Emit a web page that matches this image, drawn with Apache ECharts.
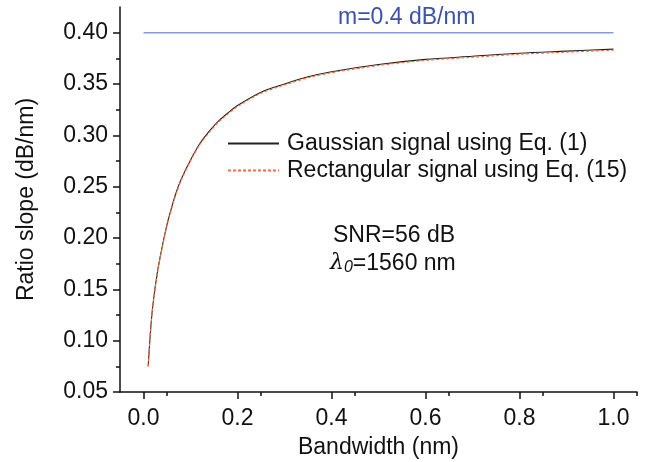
<!DOCTYPE html>
<html>
<head>
<meta charset="utf-8">
<script src="https://cdn.jsdelivr.net/npm/echarts@6/dist/echarts.min.js"></script>
<style>html,body{margin:0;padding:0;background:#fff;}#c{width:647px;height:462px;}</style>
</head>
<body>
<div id="c"></div>
<script>
var bandwidth = [0.01, 0.015, 0.02, 0.03, 0.04, 0.05, 0.06, 0.07, 0.08, 0.1, 0.12, 0.14, 0.16, 0.18, 0.2, 0.25, 0.3, 0.35, 0.4, 0.5, 0.6, 0.7, 0.8, 0.9, 1.0];
var gaussianSlope = [0.075, 0.110, 0.135, 0.168, 0.192, 0.213, 0.230, 0.245, 0.257, 0.276, 0.292, 0.304, 0.314, 0.322, 0.329, 0.342, 0.350, 0.357, 0.362, 0.369, 0.374, 0.377, 0.380, 0.382, 0.384];
var rectSlope = [0.075, 0.109, 0.134, 0.167, 0.191, 0.212, 0.229, 0.244, 0.256, 0.275, 0.291, 0.303, 0.313, 0.321, 0.328, 0.341, 0.349, 0.356, 0.361, 0.368, 0.373, 0.376, 0.379, 0.381, 0.383];
var refX = [0, 1.0];
var refY = [0.4, 0.4];
var seriesNames = ['Gaussian signal using Eq. (1)', 'Rectangular signal using Eq. (15)'];

function pairs(xs, ys) { return xs.map(function (x, i) { return [x, ys[i]]; }); }

var FONT = 'Liberation Sans, Arial, sans-serif';
var FS = 23;
var chart = echarts.init(document.getElementById('c'));
chart.setOption({
  animation: false,
  backgroundColor: '#fff',
  grid: { left: 120, right: 10, top: 7, bottom: 70, containLabel: false, outerBoundsMode: 'none' },
  xAxis: {
    type: 'value', min: -0.05, max: 1.05, interval: 0.2,
    name: 'Bandwidth (nm)', nameLocation: 'middle', nameGap: 44,
    nameTextStyle: { fontFamily: FONT, fontSize: FS, color: '#111' },
    axisLine: { onZero: false, lineStyle: { color: '#111', width: 1.5 } },
    axisTick: { show: true, length: 7, inside: false, lineStyle: { color: '#111', width: 1.5 }, customValues: [0, 0.2, 0.4, 0.6, 0.8, 1.0] },
    minorTick: { show: true, splitNumber: 2, length: 4, lineStyle: { color: '#111', width: 1.5 } },
    axisLabel: { fontFamily: FONT, fontSize: FS, color: '#111', margin: 15, customValues: [0, 0.2, 0.4, 0.6, 0.8, 1.0], formatter: function (v) { return v.toFixed(1); } },
    splitLine: { show: false }
  },
  yAxis: {
    type: 'value', min: 0.05, max: 0.425, interval: 0.05,
    name: 'Ratio slope (dB/nm)', nameLocation: 'middle', nameGap: 82,
    nameTextStyle: { fontFamily: FONT, fontSize: FS, color: '#111' },
    axisLine: { show: true, onZero: false, lineStyle: { color: '#111', width: 1.5 } },
    axisTick: { show: true, length: 7, lineStyle: { color: '#111', width: 1.5 }, customValues: [0.05, 0.1, 0.15, 0.2, 0.25, 0.3, 0.35, 0.4] },
    minorTick: { show: true, splitNumber: 2, length: 4, lineStyle: { color: '#111', width: 1.5 } },
    axisLabel: { fontFamily: FONT, fontSize: FS, color: '#111', margin: 12, customValues: [0.05, 0.1, 0.15, 0.2, 0.25, 0.3, 0.35, 0.4], formatter: function (v) { return v.toFixed(2); } },
    splitLine: { show: false }
  },
  legend: {
    left: 227, top: 132, orient: 'vertical', padding: 0,
    itemWidth: 51, itemHeight: 14, itemGap: 4,
    data: seriesNames,
    itemStyle: { opacity: 0 },
    textStyle: { fontFamily: FONT, fontSize: FS, color: '#111', padding: [0, 0, 0, 3] }
  },
  series: [
    {
      name: 'm=0.4', type: 'line', data: pairs(refX, refY), symbol: 'none', silent: true,
      lineStyle: { color: '#8798dd', width: 1.5 }
    },
    {
      name: seriesNames[0], type: 'line', data: pairs(bandwidth, gaussianSlope), symbol: 'none', smooth: 0.3,
      itemStyle: { color: '#222' },
      lineStyle: { color: '#222', width: 1.1 }
    },
    {
      name: seriesNames[1], type: 'line', data: pairs(bandwidth, rectSlope), symbol: 'none', smooth: 0.3,
      itemStyle: { color: '#ff6a3a' },
      lineStyle: { color: '#ff6a3a', width: 1.1, type: [3, 2] }
    }
  ],
  graphic: [
    { type: 'text', left: 338, top: 6, style: { text: 'm=0.4 dB/nm', font: FS + 'px ' + FONT, fill: '#3a52a8' } },
    { type: 'text', left: 333, top: 224, style: { text: 'SNR=56 dB', font: FS + 'px ' + FONT, fill: '#111' } },
    { type: 'text', left: 330, top: 252, style: {
        text: '{l|λ}{s|0}=1560 nm',
        font: FS + 'px ' + FONT, fill: '#111',
        rich: {
          l: { fontFamily: 'DejaVu Serif, serif', fontStyle: 'italic', fontSize: 22, color: '#111' },
          s: { fontFamily: FONT, fontStyle: 'italic', fontSize: 16, color: '#111', padding: [8, 0, 0, 0] }
        }
      } }
  ]
});
</script>
</body>
</html>
